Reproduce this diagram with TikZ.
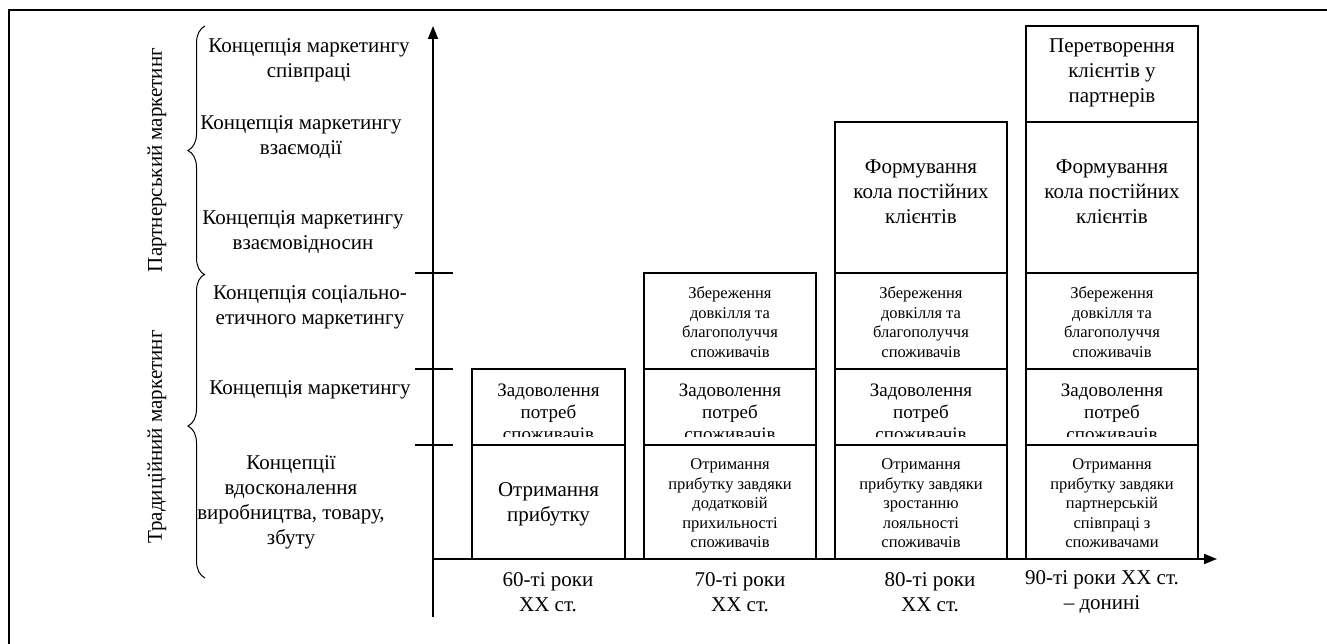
\documentclass[tikz,border=0pt]{standalone}
\usepackage{fontspec}
\setmainfont{Liberation Serif}
\usetikzlibrary{arrows.meta,decorations.pathreplacing}

\tikzset{
  bigtxt/.style={font=\fontsize{21}{25}\selectfont, align=center, inner sep=0pt},
  midtxt/.style={font=\fontsize{19}{22}\selectfont, align=center, inner sep=0pt},
  smalltxt/.style={font=\fontsize{16.5}{19.5}\selectfont, align=center, inner sep=0pt},
  cell/.style={draw, line width=1.4pt, inner sep=0pt, outer sep=0pt, anchor=north west},
  axis/.style={line width=1.8pt, -{Triangle[length=13pt,width=10pt]}},
  tick/.style={line width=1.4pt},
  frame/.style={line width=2.6pt},
  bracket/.style={line width=1pt, decorate, decoration={brace, amplitude=17pt}},
}

\begin{document}
\begin{tikzpicture}[x=1pt,y=-1pt]
\useasboundingbox (0,0) rectangle (1327,644);

% page frame (top and left edges)
\coordinate (fbl) at (9,650);
\coordinate (ftl) at (9,10);
\coordinate (ftr) at (1330,10);
\draw[frame] (fbl) -- (ftl) -- (ftr);

% axes
\coordinate (ybot) at (433,617);
\coordinate (ytop) at (433,26);
\coordinate (orig) at (433,559);
\coordinate (xend) at (1217,559);
\draw[axis] (ybot) -- (ytop);
\draw[axis] (orig) -- (xend);

% level ticks on the vertical axis
\foreach \yy/\nm in {273/t1,369/t2,445/t3}{
  \coordinate (\nm a) at (415,\yy);
  \coordinate (\nm b) at (453,\yy);
  \draw[tick] (\nm a) -- (\nm b);
}

% braces and group labels
\coordinate (b1s) at (205,275);
\coordinate (b1e) at (205,26);
\coordinate (b2s) at (205,578);
\coordinate (b2e) at (205,274);
\draw[bracket] (b1s) -- (b1e);
\draw[bracket] (b2s) -- (b2e);
\node[bigtxt, rotate=90] (gp) at (157,160) {Партнерський маркетинг};
\node[bigtxt, rotate=90] (gt) at (157,437) {Традиційний маркетинг};

% concept labels
\node[bigtxt] (l1) at (309,60)  {Концепція маркетингу\\співпраці};
\node[bigtxt] (l2) at (301,137) {Концепція маркетингу\\взаємодії};
\node[bigtxt] (l3) at (303,232) {Концепція маркетингу\\взаємовідносин};
\node[bigtxt] (l4) at (310,307) {Концепція соціально-\\етичного маркетингу};
\node[bigtxt] (l5) at (310,390) {Концепція маркетингу};
\node[bigtxt] (l6) at (291,502) {Концепції\\вдосконалення\\виробництва, товару,\\збуту};

% column 1
\node[cell, minimum width=153pt, minimum height=76pt]  (a3) at (472,369) {};
\node[cell, minimum width=153pt, minimum height=114pt] (a4) at (472,445) {};
% column 2
\node[cell, minimum width=172pt, minimum height=96pt]  (b2) at (644,273) {};
\node[cell, minimum width=172pt, minimum height=76pt]  (b3) at (644,369) {};
\node[cell, minimum width=172pt, minimum height=114pt] (b4) at (644,445) {};
% column 3
\node[cell, minimum width=172pt, minimum height=151pt] (c1) at (835,122) {};
\node[cell, minimum width=172pt, minimum height=96pt]  (c2) at (835,273) {};
\node[cell, minimum width=172pt, minimum height=76pt]  (c3) at (835,369) {};
\node[cell, minimum width=172pt, minimum height=114pt] (c4) at (835,445) {};
% column 4
\node[cell, minimum width=172pt, minimum height=96pt]  (d0) at (1026,26) {};
\node[cell, minimum width=172pt, minimum height=151pt] (d1) at (1026,122) {};
\node[cell, minimum width=172pt, minimum height=96pt]  (d2) at (1026,273) {};
\node[cell, minimum width=172pt, minimum height=76pt]  (d3) at (1026,369) {};
\node[cell, minimum width=172pt, minimum height=114pt] (d4) at (1026,445) {};

% cell texts
\node[bigtxt] (ta4) at (548.5,504) {Отримання\\прибутку};
\node[smalltxt] (tb2) at (730,322) {Збереження\\довкілля та\\благополуччя\\споживачів};
\node[smalltxt] (tb4) at (730,503.5) {Отримання\\прибутку завдяки\\додатковій\\прихильності\\споживачів};
\node[bigtxt] (tc1) at (921,192) {Формування\\кола постійних\\клієнтів};
\node[smalltxt] (tc2) at (921,322) {Збереження\\довкілля та\\благополуччя\\споживачів};
\node[smalltxt] (tc4) at (921,503.5) {Отримання\\прибутку завдяки\\зростанню\\лояльності\\споживачів};
\node[bigtxt] (td0) at (1112,73) {Перетворення\\клієнтів у\\партнерів};
\node[bigtxt] (td1) at (1112,192) {Формування\\кола постійних\\клієнтів};
\node[smalltxt] (td2) at (1112,322) {Збереження\\довкілля та\\благополуччя\\споживачів};
\node[smalltxt] (td4) at (1112,503.5) {Отримання\\прибутку завдяки\\партнерській\\співпраці з\\споживачами};

% "consumer needs" texts, cut off above the lower edge of their cells
\foreach \cl/\cx in {a3/548.5,b3/730,c3/921,d3/1112}{
  \begin{scope}
    \clip (\cl.north west) rectangle ([yshift=8.5pt]\cl.south east);
    \node[midtxt] (t\cl) at (\cx,412) {Задоволення\\потреб\\споживачів};
  \end{scope}
}

% period labels
\node[bigtxt] (p1) at (548,592) {60-ті роки\\XX ст.};
\node[bigtxt] (p2) at (740,592) {70-ті роки\\XX ст.};
\node[bigtxt] (p3) at (930,592) {80-ті роки\\XX ст.};
\node[bigtxt] (p4) at (1102,592) {90-ті роки XX ст.\\– донині};
\end{tikzpicture}
\end{document}
